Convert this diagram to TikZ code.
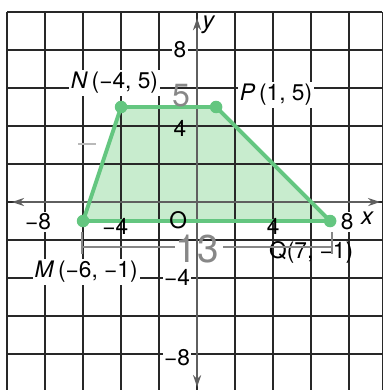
\documentclass[tikz,border=0pt]{standalone}
\usepackage{fontspec}
\setmainfont{TeX Gyre Heros}
\usetikzlibrary{arrows.meta}
\definecolor{gridc}{RGB}{40,40,40}
\definecolor{axisc}{RGB}{95,95,95}
\definecolor{edgec}{RGB}{100,198,128}
\definecolor{fillc}{RGB}{200,236,206}
\definecolor{pencil}{RGB}{135,135,135}
\definecolor{pencillight}{RGB}{185,185,185}
\begin{document}
\begin{tikzpicture}[x=0.5cm,y=0.5cm,
  gridline/.style={draw=gridc, line width=1.3pt},
  axisline/.style={draw=axisc, line width=1.8pt,
    {Stealth[length=9pt,width=6pt]}-{Stealth[length=9pt,width=6pt]}},
  ticklab/.style={font=\fontsize{17}{17}\selectfont, inner sep=1pt},
  ticklabw/.style={ticklab, fill=white},
  ptlab/.style={font=\fontsize{17}{17}\selectfont, fill=white, inner sep=1.5pt},
  axlab/.style={font=\fontsize{18}{18}\selectfont\itshape, inner sep=1pt},
  vdot/.style={circle, fill=edgec, inner sep=0pt, minimum size=0.33cm},
  edgeline/.style={draw=edgec, line width=2.9pt, line join=round},
  pencilline/.style={draw=pencil, line width=1.6pt},
  pencilnum/.style={text=pencil, inner sep=0pt}]
\useasboundingbox (-10.37,-9.89) rectangle (9.89,10.63);

% vertices
\coordinate (M) at (-6,-1);
\coordinate (N) at (-4,5);
\coordinate (P) at (1,5);
\coordinate (Q) at (7,-1);

% fill
\fill[fillc] (M) -- (N) -- (P) -- (Q) -- cycle;

% grid
\foreach \x in {-10,-8,...,8} \draw[gridline] (\x,10) -- (\x,-9.89);
\draw[gridline] (9.75,10) -- (9.75,-9.89);
\foreach \y in {10,8,...,-8} \draw[gridline] (-10,\y) -- (9.75,\y);

% axes
\coordinate (xl) at (-9.74,0);
\coordinate (xr) at (9.63,0);
\coordinate (yb) at (0,-9.74);
\coordinate (yt) at (0,9.68);
\draw[axisline] (xl) -- (xr);
\draw[axisline] (yb) -- (yt);
\node[axlab] (xlab) at (8.95,-0.85) {x};
\node[axlab] (ylab) at (0.6,9.3) {y};

% polygon
\draw[edgeline] (M) -- (N) -- (P) -- (Q) -- cycle;
\node[vdot] (dM) at (M) {};
\node[vdot] (dN) at (N) {};
\node[vdot] (dP) at (P) {};
\node[vdot] (dQ) at (Q) {};

% tick labels
\node[ticklabw] (t8) at (-0.9,8) {8};
\node[ticklab] (t4) at (-0.9,3.85) {4};
\node[ticklabw] (tm4) at (-1.05,-3.98) {−4};
\node[ticklabw] (tm8) at (-1.05,-8.2) {−8};
\node[ticklabw] (sm8) at (-8.37,-1.05) {−8};
\node[ticklab] (sm4) at (-4.3,-1.3) {−4};
\node[ticklab] (s4) at (4,-1.3) {4};
\node[ticklabw] (s8) at (7.9,-1.05) {8};
\node[ticklab] (orig) at (-1,-0.95) {O};

% point labels
\node[ptlab] (lN) at (-4.35,6.26) {\textit{N}\,(−4, 5)};
\node[ptlab] (lP) at (4.15,5.63) {\textit{P}\,(1, 5)};
\node[ptlab] (lM) at (-5.84,-3.68) {\textit{M}\,(−6, −1)};
\node[ptlab, fill=none] (lQ) at (6.0,-2.63) {Q(7, −1)};

% pencil annotations
\node[pencilnum, font=\fontsize{24}{24}\selectfont] (h5) at (-0.85,5.6) {5};
\draw[pencilline] (-6.05,-1.6) -- (-6.05,-2.75);
\draw[pencilline] (-6.05,-2.37) -- (-1.15,-2.37);
\draw[pencilline] (1.37,-2.37) -- (7.1,-2.37);
\draw[pencilline] (7.1,-1.6) -- (7.1,-2.75);
\node[pencilnum, font=\fontsize{29}{29}\selectfont] (h13) at (0,-2.45) {13};
\draw[draw=pencillight, line width=1.2pt] (-6.26,3.05) -- (-5.3,3.05);
\end{tikzpicture}
\end{document}
